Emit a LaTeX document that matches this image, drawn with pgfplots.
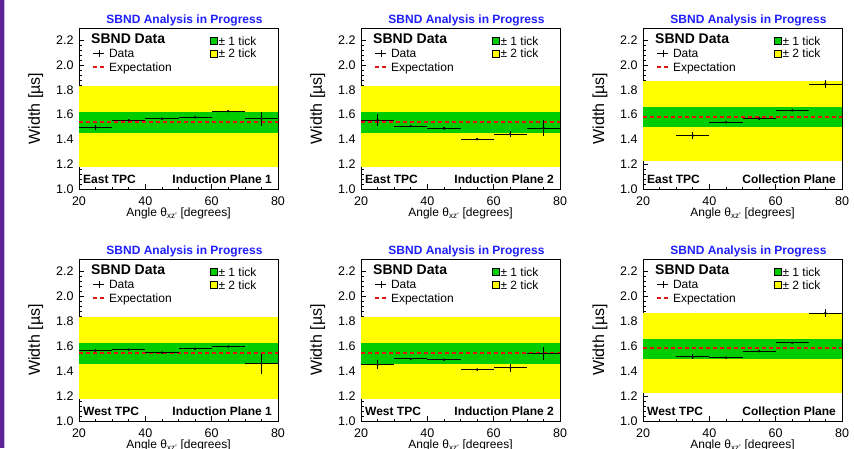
\documentclass[border=0pt]{standalone}
\usepackage{pgfplots}
\pgfplotsset{compat=1.18}
\usepackage{pgfplotstable}
\usepackage{fontspec}
\setmainfont{Liberation Sans}
\definecolor{rgreen}{RGB}{0,204,0}
\definecolor{ryellow}{RGB}{255,255,0}
\definecolor{rred}{RGB}{225,20,20}
\definecolor{rblue}{RGB}{30,30,255}
\definecolor{rpurple}{RGB}{92,38,150}
\definecolor{rlav}{RGB}{200,180,225}

% bands
\pgfplotstableread{
x y
20 1.175
80 1.175
80 1.835
20 1.835
}\yelInd
\pgfplotstableread{
x y
20 1.455
80 1.455
80 1.623
20 1.623
}\grnInd
\pgfplotstableread{
x y
20 1.542
80 1.542
}\expInd
\pgfplotstableread{
x y
20 1.226
80 1.226
80 1.870
20 1.870
}\yelCol
\pgfplotstableread{
x y
20 1.497
80 1.497
80 1.661
20 1.661
}\grnCol
\pgfplotstableread{
x y
20 1.582
80 1.582
}\expCol

% data
\pgfplotstableread{
x y ex ey
25 1.496 5 0.020
35 1.555 5 0.008
45 1.568 5 0.008
55 1.579 5 0.008
65 1.629 5 0.006
75 1.568 5 0.057
}\dEIa
\pgfplotstableread{
x y ex ey
25 1.557 5 0.050
35 1.507 5 0.010
45 1.490 5 0.010
55 1.403 5 0.006
65 1.443 5 0.027
75 1.493 5 0.067
}\dEIb
\pgfplotstableread{
x y ex ey
35 1.432 5 0.027
45 1.539 5 0.008
55 1.568 5 0.010
65 1.635 5 0.008
75 1.848 5 0.030
}\dEC
\pgfplotstableread{
x y ex ey
25 1.565 5 0.010
35 1.573 5 0.008
45 1.549 5 0.008
55 1.579 5 0.008
65 1.597 5 0.008
75 1.461 5 0.080
}\dWIa
\pgfplotstableread{
x y ex ey
25 1.451 5 0.037
35 1.499 5 0.008
45 1.493 5 0.008
55 1.413 5 0.006
65 1.429 5 0.032
75 1.541 5 0.053
}\dWIb
\pgfplotstableread{
x y ex ey
35 1.515 5 0.020
45 1.509 5 0.008
55 1.560 5 0.010
65 1.627 5 0.008
75 1.867 5 0.030
}\dWC

\pgfplotsset{
 base/.style={
  anchor=south west, width=199pt, scale only axis,
  xmin=20, xmax=80, ymin=1.0, ymax=2.3,
 },
 sbnd/.style={
  base,
  axis background/.style={fill=white},
  xtick={20,40,60,80}, ytick={1.0,1.2,1.4,1.6,1.8,2.0,2.2},
  minor x tick num=3, minor y tick num=4,
  tick align=inside, xtick pos=left, ytick pos=left,
  major tick length=5pt, minor tick length=2.5pt,
  tick style={black, line width=0.6pt},
  axis line style={black, line width=0.8pt},
  /pgf/number format/assume math mode=true,
  tick label style={font=\fontsize{12.5}{12.5}\selectfont},
  yticklabel style={/pgf/number format/fixed, /pgf/number format/fixed zerofill, /pgf/number format/precision=1, xshift=-2pt},
  xticklabel style={anchor=base, yshift=-16pt},
  every axis title shift=0pt,
  title={SBND Analysis in Progress},
  title style={font=\bfseries\fontsize{12}{12}\selectfont, text=rblue, anchor=base, at={(axis description cs:0.53,1)}, yshift=4.7pt},
  xlabel={Angle θ\textsubscript{xz'} [degrees]},
  xlabel style={font=\fontsize{12}{12}\selectfont, anchor=base, at={(axis description cs:0.5,0)}, yshift=-27.5pt},
  ylabel={Width [µs]},
  ylabel style={font=\fontsize{16}{16}\selectfont, anchor=base, at={(axis description cs:-0.196,0.5)}},
  legend cell align=left,
  legend style={draw=none, fill=none, inner sep=0pt, outer sep=0pt,
   row sep=2pt, column sep=4pt,
   nodes={inner sep=0pt, text height=10pt, text depth=2pt, font=\fontsize{12}{12}\selectfont},
   at={(axis description cs:0,1)}, anchor=north west, xshift=13pt, yshift=-19pt},
 },
 bandleg/.style={
  base, hide axis,
  legend cell align=left,
  legend style={draw=none, fill=none, inner sep=0pt, outer sep=0pt,
   row sep=1pt, column sep=1pt,
   nodes={inner sep=0pt, text height=10pt, text depth=2pt, font=\fontsize{12}{12}\selectfont},
   at={(axis description cs:0,1)}, anchor=north west, xshift=131pt, yshift=-7pt},
 },
 legData/.style={legend image code/.code={\path (0pt,0pt) -- (11pt,0pt);\draw[black, line width=0.8pt] (2pt,0pt) -- (10pt,0pt) (6pt,-3.5pt) -- (6pt,3.5pt);}},
 legExp/.style={legend image code/.code={\draw[rred, line width=2pt, dash pattern=on 4pt off 3pt] (0pt,0pt) -- (11pt,0pt);}},
 legGreen/.style={legend image code/.code={\draw[fill=rgreen, draw=black, line width=0.5pt] (0pt,-3.5pt) rectangle (7pt,3.5pt);}},
 legYellow/.style={legend image code/.code={\draw[fill=ryellow, draw=black, line width=0.5pt] (0pt,-3.5pt) rectangle (7pt,3.5pt);}},
}

\newcommand{\panel}[9]{%
\begin{axis}[sbnd, at={(#1pt,#2pt)}, height=#3pt]
\addplot[fill=ryellow, draw=none, forget plot] table[x=x,y=y] {#4} -- cycle;
\addplot[fill=rgreen, draw=none, forget plot] table[x=x,y=y] {#5} -- cycle;
\addplot[rred, line width=2pt, dash pattern=on 4pt off 3pt, forget plot] table[x=x,y=y] {#6};
\addplot[black, only marks, mark=*, mark size=1pt, forget plot,
  error bars/.cd, x dir=both, x explicit, y dir=both, y explicit, error mark=none,
  error bar style={line width=0.8pt, black}]
  table[x=x, y=y, x error=ex, y error=ey] {#7};
\addlegendimage{legData}\addlegendentry{Data}
\addlegendimage{legExp}\addlegendentry{Expectation}
\node[anchor=base west, font=\bfseries\fontsize{14}{14}\selectfont, xshift=12pt, yshift=-15.3pt, inner sep=0pt] at (rel axis cs:0,1) {SBND Data};
\node[anchor=base west, font=\bfseries\fontsize{12}{12}\selectfont, xshift=4pt, yshift=5.5pt, inner sep=0pt] at (rel axis cs:0,0) {#8};
\node[anchor=base east, font=\bfseries\fontsize{12}{12}\selectfont, xshift=-6pt, yshift=5.5pt, inner sep=0pt] at (rel axis cs:1,0) {#9};
\end{axis}
\begin{axis}[bandleg, at={(#1pt,#2pt)}, height=#3pt]
\addplot[draw=none, forget plot] coordinates {(20,1.0)};
\addlegendimage{legGreen}\addlegendentry{± 1 tick}
\addlegendimage{legYellow}\addlegendentry{± 2 tick}
\end{axis}}

\begin{document}
\begin{tikzpicture}
\path[use as bounding box] (0,0) rectangle (854pt,448pt);
\fill[rpurple] (0,0) rectangle (4pt,448pt);
\fill[rlav] (4pt,0) rectangle (5pt,448pt);
\panel{79}{259}{161}{\yelInd}{\grnInd}{\expInd}{\dEIa}{East TPC}{Induction Plane 1}
\panel{361}{259}{161}{\yelInd}{\grnInd}{\expInd}{\dEIb}{East TPC}{Induction Plane 2}
\panel{643}{259}{161}{\yelCol}{\grnCol}{\expCol}{\dEC}{East TPC}{Collection Plane}
\panel{79}{27}{162}{\yelInd}{\grnInd}{\expInd}{\dWIa}{West TPC}{Induction Plane 1}
\panel{361}{27}{162}{\yelInd}{\grnInd}{\expInd}{\dWIb}{West TPC}{Induction Plane 2}
\panel{643}{27}{162}{\yelCol}{\grnCol}{\expCol}{\dWC}{West TPC}{Collection Plane}
\end{tikzpicture}
\end{document}
